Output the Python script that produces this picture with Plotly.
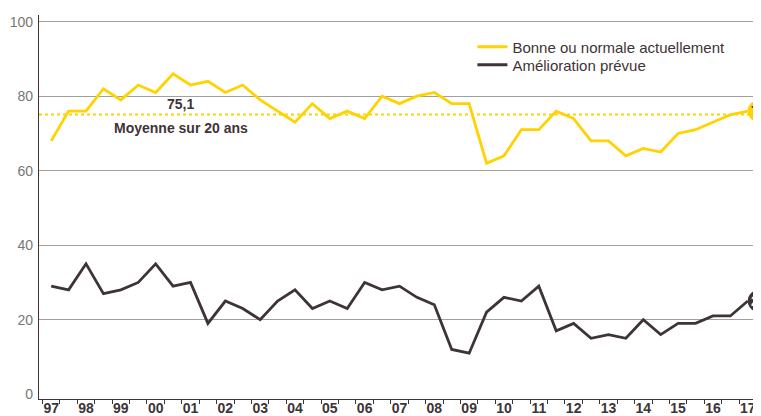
import plotly.graph_objects as go

# Half-yearly survey points, 1997 to 2017
year_labels = ["97", "98", "99", "00", "01", "02", "03", "04", "05", "06", "07",
               "08", "09", "10", "11", "12", "13", "14", "15", "16", "17"]

bonne_normale = [68, 76, 76, 82, 79, 83, 81, 86, 83, 84, 81, 83, 79, 76, 73, 78, 74, 76, 74, 80,
                 78, 80, 81, 78, 78, 62, 64, 71, 71, 76, 74, 68, 68, 64, 66, 65, 70, 71, 73, 75, 76]
amelioration = [29, 28, 35, 27, 28, 30, 35, 29, 30, 19, 25, 23, 20, 25, 28, 23, 25, 23, 30, 28,
                29, 26, 24, 12, 11, 22, 26, 25, 29, 17, 19, 15, 16, 15, 20, 16, 19, 19, 21, 21, 25]
moyenne = 75.1
moyenne_label = "75,1"
moyenne_text = "Moyenne sur 20 ans"
names = ["Bonne ou normale actuellement", "Amélioration prévue"]

YELLOW = "#FFD200"
DARK = "#3E3437"
FONT = "Liberation Sans, Arial, sans-serif"

n = len(bonne_normale)
xs = list(range(n))
XR = [-0.7, 40.3]
YR = [-1.3, 101.8]

fig = go.Figure()
fig.add_trace(go.Scatter(x=xs, y=bonne_normale, mode="lines", name=names[0], legend="legend",
                         line=dict(color=YELLOW, width=2.8)))
fig.add_trace(go.Scatter(x=xs, y=amelioration, mode="lines", name=names[1], legend="legend2",
                         line=dict(color=DARK, width=2.8)))
# carrier trace for the half-year tick marks axis
fig.add_trace(go.Scatter(x=xs, y=amelioration, xaxis="x2", mode="lines", opacity=0,
                         line=dict(width=0), showlegend=False, hoverinfo="skip"))

# average line
fig.add_shape(type="line", xref="paper", yref="y", x0=0, x1=1, y0=moyenne, y1=moyenne,
              line=dict(color=YELLOW, width=2, dash="dot"), layer="below")
fig.add_annotation(x=7.45, y=moyenne, yshift=10, text="<b>%s</b>" % moyenne_label,
                   showarrow=False, font=dict(family=FONT, size=14, color=DARK))
fig.add_annotation(x=7.45, y=moyenne, yshift=-14, text="<b>%s</b>" % moyenne_text,
                   showarrow=False, font=dict(family=FONT, size=14, color=DARK))

# end-value badges (partly beyond the right edge, as in the original)
bx = 1.008
for val, fill, tcol in [(bonne_normale[-1], YELLOW, DARK), (amelioration[-1], DARK, "white")]:
    py = (val - YR[0]) / (YR[1] - YR[0])
    fig.add_shape(type="circle", xref="paper", yref="paper", xsizemode="pixel", ysizemode="pixel",
                  xanchor=bx, yanchor=py, x0=-11, x1=11, y0=-11, y1=11,
                  fillcolor=fill, line=dict(width=0), layer="above")
    fig.add_annotation(xref="paper", yref="paper", x=bx, y=py, xanchor="center", yanchor="middle",
                       text="<b>%d</b>" % val, showarrow=False,
                       font=dict(family=FONT, size=14, color=tcol))

legend_common = dict(xanchor="left", yanchor="middle", bgcolor="rgba(0,0,0,0)",
                     font=dict(family=FONT, size=15, color=DARK), itemwidth=30)

# The page body adds an 8px margin, so the figure is sized / offset to compensate.
fig.update_layout(
    width=753, height=408,
    margin=dict(l=31, r=8, t=7, b=17, autoexpand=False),
    plot_bgcolor="white", paper_bgcolor="white",
    font=dict(family=FONT),
    showlegend=True,
    legend=dict(x=0.607, y=(399 - 47) / 384, **legend_common),
    legend2=dict(x=0.607, y=(399 - 65) / 384, **legend_common),
    xaxis=dict(range=XR, tickmode="array", tickvals=xs[::2], ticktext=year_labels,
               ticks="", showgrid=False, zeroline=False, showline=True, linecolor=DARK,
               linewidth=1.2, automargin=False, ticklabelstandoff=-4,
               tickfont=dict(family=FONT, size=14, color=DARK, weight="bold")),
    xaxis2=dict(range=XR, overlaying="x", anchor="y", side="bottom", tickmode="array",
                tickvals=[i + 0.5 for i in range(-1, n)], ticks="outside", ticklen=4,
                tickcolor=DARK, tickwidth=1, showticklabels=False, showgrid=False,
                zeroline=False, showline=False, automargin=False),
    yaxis=dict(range=YR, tickmode="array", tickvals=[0, 20, 40, 60, 80, 100],
               ticks="", showgrid=True, gridcolor="#A0A0A0", gridwidth=1,
               zeroline=True, zerolinecolor="rgba(0,0,0,0)", zerolinewidth=0.1,
               showline=True, linecolor=DARK, linewidth=1.2, ticklabelstandoff=2,
               automargin=False, tickfont=dict(family=FONT, size=14, color="#777777")),
)

fig.write_html("out.html")
